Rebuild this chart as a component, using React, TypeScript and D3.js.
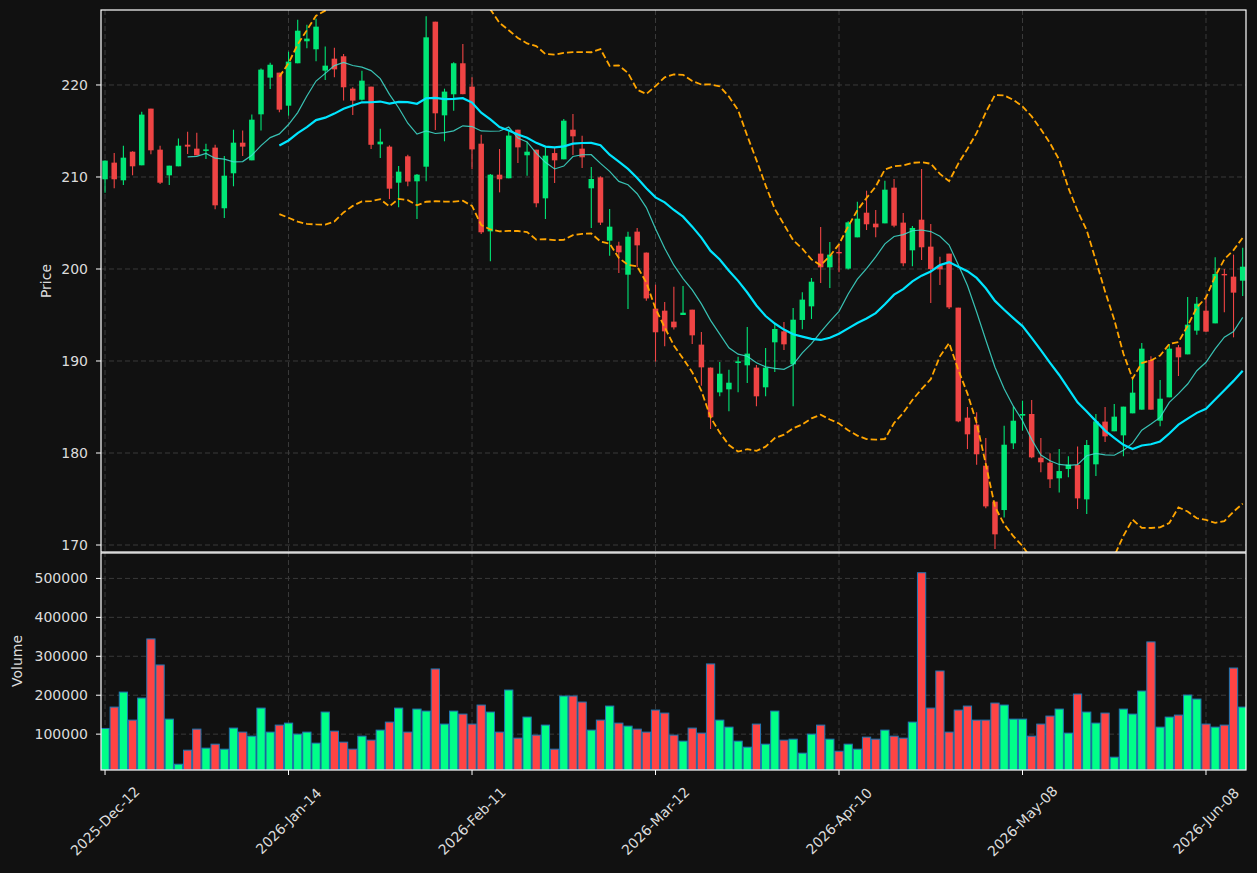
import { useRef, useEffect } from "react";
import * as d3 from "d3";

// OHLC, one entry per trading day (index based x axis)
const opens = [
  209.75, 211.56, 209.64, 212.75, 211.27, 217.43, 212.97, 210.18, 211.16, 213.51,
  213.08, 212.83, 213.19, 206.6, 210.4, 213.73, 211.81, 216.81, 220.8, 221.34,
  217.75, 222.36, 224.75, 223.88, 221.56, 222.86, 223.12, 219.6, 218.4, 219.82,
  213.55, 213.3, 209.38, 212.25, 209.53, 211.12, 226.88, 216.7, 218.99, 222.36,
  219.82, 213.62, 204.09, 210.25, 209.86, 215.14, 212.36, 212.97, 207.68, 212.6,
  211.92, 215.14, 213.08, 208.77, 209.96, 203.08, 202.54, 199.38, 204.06, 201.78,
  195.69, 195.47, 194.28, 195.0, 195.58, 191.78, 189.28, 186.59, 186.92, 189.78,
  189.53, 189.28, 187.14, 192.03, 193.22, 189.64, 194.46, 195.94, 201.67, 200.18,
  201.85, 200.04, 203.44, 206.12, 204.93, 204.96, 208.84, 205.04, 202.03, 205.36,
  202.43, 200.36, 201.67, 195.8, 183.84, 183.08, 178.62, 174.71, 173.8, 181.05,
  184.06, 184.24, 179.49, 178.95, 177.25, 178.26, 178.7, 174.96, 178.77, 183.41,
  182.36, 181.92, 184.31, 184.71, 190.11, 183.51, 186.05, 191.49, 190.72, 193.3,
  195.47, 194.09, 199.46, 199.17, 198.73,
];
const highs = [
  211.8, 212.6, 213.4, 212.8, 217.1, 217.43, 213.4, 211.23, 214.17, 214.93,
  214.82, 213.62, 213.51, 212.28, 215.14, 215.04, 216.78, 221.78, 222.43, 221.34,
  223.62, 227.1, 226.56, 227.2, 224.17, 224.06, 223.37, 219.75, 221.56, 219.82,
  215.25, 213.44, 211.2, 212.43, 210.33, 227.46, 226.88, 219.6, 222.46, 224.46,
  220.83, 214.6, 210.33, 213.04, 214.96, 215.14, 213.84, 212.97, 213.22, 213.22,
  216.3, 216.85, 214.49, 211.09, 210.07, 206.52, 202.97, 204.06, 204.46, 201.78,
  198.3, 196.41, 198.08, 198.15, 195.58, 193.15, 189.28, 189.89, 189.06, 190.47,
  193.7, 189.57, 191.41, 194.02, 194.24, 195.76, 197.46, 199.02, 204.57, 202.93,
  202.72, 205.2, 207.32, 208.51, 206.41, 209.6, 209.78, 206.09, 204.67, 210.87,
  204.89, 201.34, 201.67, 195.8, 185.0, 184.42, 181.63, 174.71, 182.97, 185.04,
  185.69, 185.76, 181.63, 179.96, 180.43, 179.64, 180.72, 181.41, 184.24, 185.0,
  185.33, 185.04, 188.22, 191.96, 190.51, 187.93, 191.85, 191.74, 196.96, 196.96,
  197.14, 201.27, 200.0, 201.56, 202.32,
];
const lows = [
  208.3, 208.77, 209.13, 210.2, 211.27, 212.46, 209.24, 209.13, 211.16, 212.5,
  212.35, 211.96, 206.49, 205.54, 208.99, 212.28, 211.81, 215.04, 219.57, 217.03,
  216.67, 222.36, 224.0, 222.57, 220.54, 220.83, 218.3, 216.74, 218.3, 213.04,
  212.07, 207.6, 206.7, 208.99, 205.43, 209.53, 215.1, 213.88, 217.2, 219.0,
  210.83, 203.8, 200.83, 208.33, 209.86, 211.52, 210.14, 206.7, 205.43, 209.35,
  211.92, 212.39, 210.98, 204.46, 204.78, 201.45, 199.57, 195.65, 200.18, 196.56,
  189.93, 191.59, 193.41, 195.0, 191.85, 187.32, 182.61, 186.16, 184.53, 186.6,
  187.61, 185.07, 186.16, 188.8, 191.2, 185.07, 193.44, 194.57, 198.48, 197.93,
  199.64, 199.95, 203.44, 204.24, 203.44, 204.96, 204.53, 200.29, 200.29, 200.98,
  196.3, 198.26, 195.65, 183.33, 180.43, 178.73, 173.99, 169.57, 173.0, 180.43,
  182.43, 179.42, 177.9, 176.2, 175.72, 177.36, 173.91, 173.37, 177.5, 181.2,
  182.36, 179.64, 184.31, 184.71, 184.71, 182.9, 186.05, 188.37, 190.72, 192.86,
  193.19, 194.09, 195.29, 192.57, 197.07,
];
const closes = [
  211.78, 209.75, 212.1, 211.16, 216.78, 212.9, 209.38, 211.23, 213.4, 213.3,
  212.35, 213.0, 206.92, 210.14, 213.73, 213.3, 216.23, 221.67, 222.2, 217.32,
  222.54, 225.9, 225.04, 226.34, 222.1, 221.7, 219.75, 218.3, 220.47, 213.5,
  213.84, 208.73, 210.58, 209.5, 210.25, 225.18, 216.92, 219.28, 222.36, 219.0,
  213.0, 203.99, 210.25, 209.75, 214.5, 213.22, 212.75, 207.14, 212.32, 211.81,
  216.12, 214.42, 212.14, 209.78, 205.04, 204.6, 201.81, 203.51, 202.57, 196.8,
  193.12, 193.22, 193.66, 195.25, 192.79, 189.31, 183.88, 188.62, 187.64, 189.96,
  190.8, 186.16, 189.28, 193.48, 191.81, 194.49, 196.67, 198.62, 200.18, 201.56,
  201.7, 205.07, 205.47, 204.86, 204.53, 208.62, 204.71, 200.62, 204.46, 202.36,
  200.0, 199.96, 195.83, 183.44, 182.03, 179.86, 174.2, 171.16, 180.9, 183.51,
  184.24, 179.53, 178.99, 177.14, 178.04, 178.74, 175.07, 180.87, 183.44, 181.81,
  183.95, 185.04, 186.56, 191.34, 184.71, 185.9, 191.34, 190.4, 193.95, 196.23,
  193.19, 199.46, 199.31, 197.43, 200.25,
];
const volumes = [
  114600, 169500, 208000, 136000, 192700, 344600, 277700, 138600, 22700, 58800,
  112900, 64000, 74200, 61400, 115500, 105200, 94800, 166900, 105200, 123200,
  128300, 100000, 105200, 76800, 156700, 107700, 79400, 61400, 94800, 84500,
  110300, 130900, 166900, 105200, 164400, 159200, 267400, 125800, 159200, 151500,
  125800, 174700, 156700, 105200, 213300, 89700, 143800, 97400, 123200, 61400,
  197900, 197900, 182400, 110300, 136000, 172100, 128300, 120600, 112900, 105200,
  161800, 154100, 97400, 82000, 115500, 102600, 280300, 136000, 118000, 82000,
  66500, 125800, 74200, 159200, 84500, 87100, 51100, 100000, 123200, 87100,
  56200, 74200, 61400, 92300, 87100, 110300, 94800, 89700, 130900, 514600,
  166900, 262200, 105200, 161800, 172100, 136000, 136000, 179800, 174700, 138600,
  138600, 94800, 125800, 146400, 164400, 102600, 203000, 156700, 128300, 154100,
  40800, 164400, 151500, 210700, 336900, 118000, 143800, 148900, 200400, 190100,
  125800, 118000, 123200, 269800, 169500,
];
const dateTickLabels = [
  "2025-Dec-12", "2026-Jan-14", "2026-Feb-11", "2026-Mar-12",
  "2026-Apr-10", "2026-May-08", "2026-Jun-08",
];
const dateTickStep = 20;
const priceTicks = [170, 180, 190, 200, 210, 220];
const volumeTicks = [100000, 200000, 300000, 400000, 500000];

const W = 1257;
const H = 873;
const BG = "#111111";
const TEXT = "#dcdcdc";
const FONT = "'DejaVu Sans', sans-serif";

const rolling = (vals: number[], n: number) =>
  vals.map((_, i) => (i < n - 1 ? null : d3.mean(vals.slice(i - n + 1, i + 1)) as number));
const rollingStd = (vals: number[], n: number) =>
  vals.map((_, i) => {
    if (i < n - 1) return null;
    const w = vals.slice(i - n + 1, i + 1);
    const m = d3.mean(w) as number;
    return Math.sqrt(d3.sum(w, (v) => (v - m) ** 2) / n);
  });

const CandleChart = () => {
  const svgRef = useRef<SVGSVGElement>(null);

  useEffect(() => {
    document.body.style.margin = "0";
    document.body.style.background = BG;

    const svg = d3.select(svgRef.current);
    svg.selectAll("*").remove();

    const left = 101;
    const right = 1246;
    const pTop = 10;
    const pBot = 552;
    const vTop = 552;
    const vBot = 770;
    const n = closes.length;

    const x = d3.scaleLinear().domain([-0.44, n - 0.64]).range([left, right]);
    const step = x(1) - x(0);
    const yP = d3.scaleLinear().domain([169.24, 228.15]).range([pBot, pTop]);
    const yV = d3.scaleLinear().domain([7870, 567870]).range([vBot, vTop]);

    svg.append("rect").attr("width", W).attr("height", H).attr("fill", BG);

    const defs = svg.append("defs");
    defs.append("clipPath").attr("id", "clip-price")
      .append("rect").attr("x", left).attr("y", pTop).attr("width", right - left).attr("height", pBot - pTop);
    defs.append("clipPath").attr("id", "clip-vol")
      .append("rect").attr("x", left).attr("y", vTop).attr("width", right - left).attr("height", vBot - vTop);

    const xTickIdx = dateTickLabels.map((_, i) => i * dateTickStep);

    // Grid
    const grid = svg.append("g").attr("stroke", "#3a3a3a").attr("stroke-width", 1).attr("stroke-dasharray", "5,3");
    xTickIdx.forEach((i) => {
      grid.append("line").attr("x1", x(i)).attr("x2", x(i)).attr("y1", pTop).attr("y2", pBot);
      grid.append("line").attr("x1", x(i)).attr("x2", x(i)).attr("y1", vTop).attr("y2", vBot);
    });
    priceTicks.forEach((t) => {
      grid.append("line").attr("x1", left).attr("x2", right).attr("y1", yP(t)).attr("y2", yP(t));
    });
    volumeTicks.forEach((t) => {
      grid.append("line").attr("x1", left).attr("x2", right).attr("y1", yV(t)).attr("y2", yV(t));
    });

    const up = (i: number) => closes[i] >= opens[i];

    // Candles
    const pc = svg.append("g").attr("clip-path", "url(#clip-price)");
    const idx = d3.range(n);
    pc.selectAll(".wick")
      .data(idx)
      .enter()
      .append("line")
      .attr("x1", (i) => x(i))
      .attr("x2", (i) => x(i))
      .attr("y1", (i) => yP(highs[i]))
      .attr("y2", (i) => yP(lows[i]))
      .attr("stroke", (i) => (up(i) ? "#00e676" : "#ef4444"))
      .attr("stroke-width", 1.1);
    const bw = step * 0.6;
    pc.selectAll(".body")
      .data(idx)
      .enter()
      .append("rect")
      .attr("x", (i) => x(i) - bw / 2)
      .attr("width", bw)
      .attr("y", (i) => yP(Math.max(opens[i], closes[i])))
      .attr("height", (i) => Math.max(1, Math.abs(yP(opens[i]) - yP(closes[i]))))
      .attr("fill", (i) => (up(i) ? "#00e676" : "#ef4444"));

    // Indicators
    const ma10 = rolling(closes, 10);
    const ma20 = rolling(closes, 20);
    const sd20 = rollingStd(closes, 20);
    const upper = ma20.map((m, i) => (m == null ? null : m + 2 * (sd20[i] as number)));
    const lower = ma20.map((m, i) => (m == null ? null : m - 2 * (sd20[i] as number)));

    const line = d3
      .line<number | null>()
      .defined((d) => d != null)
      .x((_, i) => x(i))
      .y((d) => yP(d as number));

    pc.append("path").datum(upper).attr("d", line).attr("fill", "none")
      .attr("stroke", "#ffa500").attr("stroke-width", 1.8).attr("stroke-dasharray", "6.5,3");
    pc.append("path").datum(lower).attr("d", line).attr("fill", "none")
      .attr("stroke", "#ffa500").attr("stroke-width", 1.8).attr("stroke-dasharray", "6.5,3");
    pc.append("path").datum(ma10).attr("d", line).attr("fill", "none")
      .attr("stroke", "#40e0d0").attr("stroke-opacity", 0.85).attr("stroke-width", 1.2);
    pc.append("path").datum(ma20).attr("d", line).attr("fill", "none")
      .attr("stroke", "#00e5ff").attr("stroke-width", 2.2);

    // Volume
    const vc = svg.append("g").attr("clip-path", "url(#clip-vol)");
    const vw = step * 0.9;
    vc.selectAll(".vol")
      .data(idx)
      .enter()
      .append("rect")
      .attr("x", (i) => x(i) - vw / 2)
      .attr("width", vw)
      .attr("y", (i) => yV(volumes[i]))
      .attr("height", (i) => vBot - yV(volumes[i]))
      .attr("fill", (i) => (up(i) ? "#00ff88" : "#ff4444"))
      .attr("stroke", "#1f77b4")
      .attr("stroke-width", 1);

    // Spines
    const spine = svg.append("g").attr("fill", "none").attr("stroke", "#ffffff").attr("stroke-width", 1.2);
    spine.append("rect").attr("x", left).attr("y", pTop).attr("width", right - left).attr("height", pBot - pTop);
    spine.append("rect").attr("x", left).attr("y", vTop + 1).attr("width", right - left).attr("height", vBot - vTop - 1);

    // Ticks and labels
    const tk = svg.append("g").style("font-family", FONT).style("font-size", "14px").attr("fill", TEXT);
    priceTicks.forEach((t) => {
      tk.append("line").attr("x1", left - 5).attr("x2", left).attr("y1", yP(t)).attr("y2", yP(t)).attr("stroke", "#ffffff");
      tk.append("text").attr("x", left - 13).attr("y", yP(t)).attr("text-anchor", "end")
        .attr("dominant-baseline", "central").text(t);
    });
    volumeTicks.forEach((t) => {
      tk.append("line").attr("x1", left - 5).attr("x2", left).attr("y1", yV(t)).attr("y2", yV(t)).attr("stroke", "#ffffff");
      tk.append("text").attr("x", left - 13).attr("y", yV(t)).attr("text-anchor", "end")
        .attr("dominant-baseline", "central").text(t);
    });
    xTickIdx.forEach((i, k) => {
      tk.append("line").attr("x1", x(i)).attr("x2", x(i)).attr("y1", vBot).attr("y2", vBot + 5).attr("stroke", "#ffffff");
      tk.append("text")
        .attr("transform", `translate(${x(i)},${821}) rotate(-45)`)
        .attr("text-anchor", "middle")
        .attr("dominant-baseline", "central")
        .text(dateTickLabels[k]);
    });

    tk.append("text").attr("transform", `translate(46,${(pTop + pBot) / 2}) rotate(-90)`)
      .attr("text-anchor", "middle").attr("dominant-baseline", "central").text("Price");
    tk.append("text").attr("transform", `translate(17,${(vTop + vBot) / 2}) rotate(-90)`)
      .attr("text-anchor", "middle").attr("dominant-baseline", "central").text("Volume");
  }, []);

  return <svg ref={svgRef} width={W} height={H} style={{ display: "block" }}></svg>;
};

export default function App() {
  return <CandleChart />;
}
